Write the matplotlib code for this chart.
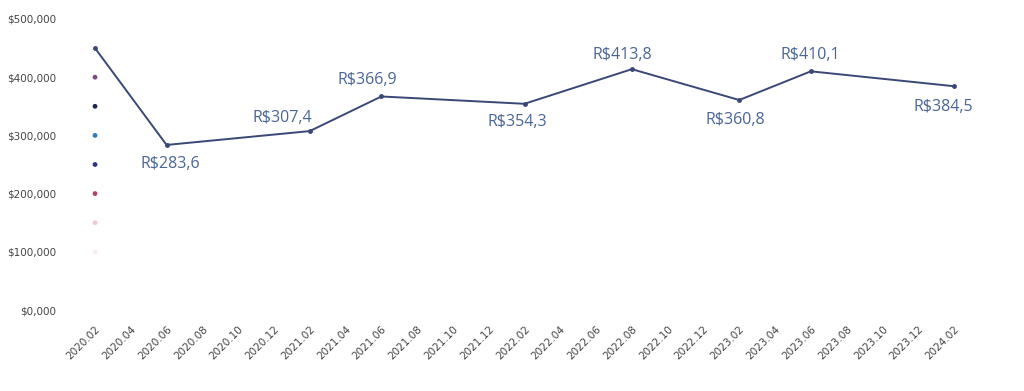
import matplotlib
matplotlib.use("Agg")
import matplotlib.pyplot as plt

# month ticks every 2 months, 2020.02 .. 2024.02
tick_labels = []
for y in range(2020, 2025):
    for m in range(2, 13, 2):
        tick_labels.append(f"{y}.{m:02d}")
tick_labels = tick_labels[:tick_labels.index("2024.02") + 1]

# main series (month index from 2020.02, value)
months = [0, 4, 12, 16, 24, 30, 36, 40, 48]
values = [450.0, 283.6, 307.4, 366.9, 354.3, 413.8, 360.8, 410.1, 384.5]

# stray points at first month
dot_values = [400, 350, 300, 250, 200, 150, 100]
dot_colors = ["#7b4a7e", "#1e2656", "#2f7dbd", "#2c3388", "#b04566", "#f3c6d2", "#f9eaef"]

# label offsets in pixels (None = no label)
label_offsets = [None, (4, -19), (-27, 13), (-14, 16), (-7, -18),
                 (-10, 14), (-4, -20), (-1, 16), (-11, -21)]

fig = plt.figure(figsize=(10.24, 3.91), dpi=100)
ax = fig.add_axes([95 / 1024, 81 / 391, (954 - 95) / 1024, 291 / 391])

line_color = "#3a4878"
ax.plot(months, values, color=line_color, lw=1.4, marker="o", ms=2.5, clip_on=False, zorder=3)
ax.scatter([0] * len(dot_values), dot_values, c=dot_colors, s=6, clip_on=False, zorder=2)

for mx, v, off in zip(months, values, label_offsets):
    if off is None:
        continue
    ax.annotate(f"R${v:.1f}".replace(".", ","), (mx, v), xytext=off,
                textcoords="offset pixels", ha="center", va="center",
                fontsize=11.5, color="#4a6694", family="Open Sans")

ax.set_xlim(0, 48)
ax.set_ylim(0, 500)
ax.set_xticks(range(0, 49, 2))
ax.set_xticklabels(tick_labels, rotation=45, ha="right", rotation_mode="anchor",
                   fontsize=7.5, color="#444444")
ax.set_yticks(range(0, 501, 100))
ax.set_yticklabels([f"${v},000" for v in range(0, 501, 100)], fontsize=7.5, color="#444444")
ax.tick_params(axis="both", length=0)
ax.tick_params(axis="y", pad=28)
ax.tick_params(axis="x", pad=10)
for s in ax.spines.values():
    s.set_visible(False)

fig.savefig("out.png", dpi=100, facecolor="white")
